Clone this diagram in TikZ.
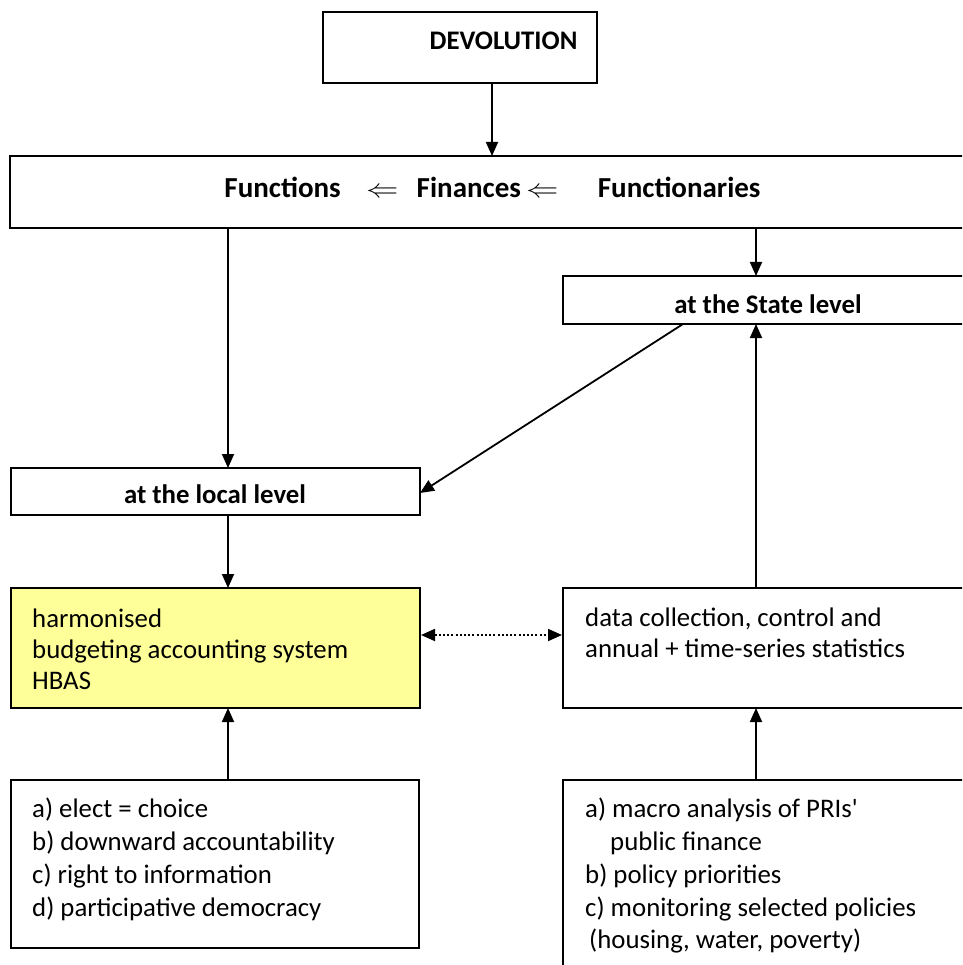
\documentclass[tikz,border=0pt]{standalone}
\usepackage{fontspec}
\setmainfont{Carlito}
\usetikzlibrary{arrows.meta}
\definecolor{hbyellow}{RGB}{255,255,153}
\tikzset{
  box/.style={draw=black,line width=1.9pt,fill=white,inner sep=0pt,outer sep=0pt,anchor=north west},
  hbas/.style={box,fill=hbyellow},
  tip/.tip={Triangle[length=14pt,width=12pt]},
  arr/.style={line width=1.8pt,-tip},
  darr/.style={line width=1.8pt,dash pattern=on 2pt off 2.2pt,tip-tip},
  txt/.style={inner sep=0pt,anchor=base west,font=\fontsize{26.8}{32}\selectfont},
  btxt/.style={inner sep=0pt,anchor=base,font=\fontsize{26.8}{32}\selectfont\bfseries},
  mtxt/.style={inner sep=0pt,anchor=base,font=\fontsize{29}{34}\selectfont\bfseries},
}
\newcommand{\lar}{\makebox[29pt]{\scalebox{1.3}[1.05]{$\Leftarrow$}}}
\begin{document}
\begin{tikzpicture}[x=1pt,y=-1pt]
\useasboundingbox (0,0) rectangle (962,965);
\clip (0,0) rectangle (962,965);
% boxes
\node[box,minimum width=274pt,minimum height=71pt] (dev) at (323,12) {};
\node[box,minimum width=970pt,minimum height=72pt] (main) at (10,156) {};
\node[box,minimum width=420pt,minimum height=48pt] (state) at (563,276) {};
\node[box,minimum width=409pt,minimum height=47pt] (local) at (11,468) {};
\node[hbas,minimum width=409pt,minimum height=120pt] (hb) at (11,588) {};
\node[box,minimum width=420pt,minimum height=120pt] (data) at (563,588) {};
\node[box,minimum width=408pt,minimum height=168pt] (bl) at (11,780) {};
\node[box,minimum width=420pt,minimum height=220pt] (br) at (563,780) {};
% texts
\node[btxt] (tdev) at (503.5,50) {DEVOLUTION};
\node[mtxt] (tf) at (492.5,198) {Functions\hspace{27pt}\lar\hspace{20pt}Finances\hspace{7pt}\lar\hspace{41pt}Functionaries};
\node[btxt] (tstate) at (768,313) {at the State level};
\node[btxt] (tlocal) at (215,503) {at the local level};
\node[txt] (h1) at (32,627) {harmonised};
\node[txt] (h2) at (32,658) {budgeting accounting system};
\node[txt] (h3) at (32,689.5) {HBAS};
\node[txt] (d1) at (585,626) {data collection, control and};
\node[txt] (d2) at (585,657) {annual + time-series statistics};
\node[txt] (l1) at (32,817) {a) elect = choice};
\node[txt] (l2) at (32,850) {b) downward accountability};
\node[txt] (l3) at (32,883) {c) right to information};
\node[txt] (l4) at (32,916) {d) participative democracy};
\node[txt] (r1) at (585,817) {a) macro analysis of PRIs\textquotesingle};
\node[txt] (r2) at (610,850) {public finance};
\node[txt] (r3) at (585,883) {b) policy priorities};
\node[txt] (r4) at (585,916) {c) monitoring selected policies};
\node[txt] (r5) at (589,948) {(housing, water, poverty)};
% connectors
\coordinate (xa) at (492,0);
\coordinate (xl) at (228,0);
\coordinate (xr) at (756,0);
\coordinate (xd) at (683,0);
\coordinate (yd) at (0,493);
\coordinate (yh) at (0,635);
\draw[arr] (dev.south -| xa) -- (main.north -| xa);
\draw[arr] (main.south -| xr) -- (state.north -| xr);
\draw[arr] (main.south -| xl) -- (local.north -| xl);
\draw[arr] (local.south -| xl) -- (hb.north -| xl);
\draw[arr] (state.south -| xd) -- (local.east |- yd);
\draw[arr] (data.north -| xr) -- (state.south -| xr);
\draw[arr] (bl.north -| xl) -- (hb.south -| xl);
\draw[arr] (br.north -| xr) -- (data.south -| xr);
\draw[darr] ([xshift=1pt]hb.east |- yh) -- ([xshift=-1pt]data.west |- yh);
\end{tikzpicture}
\end{document}
